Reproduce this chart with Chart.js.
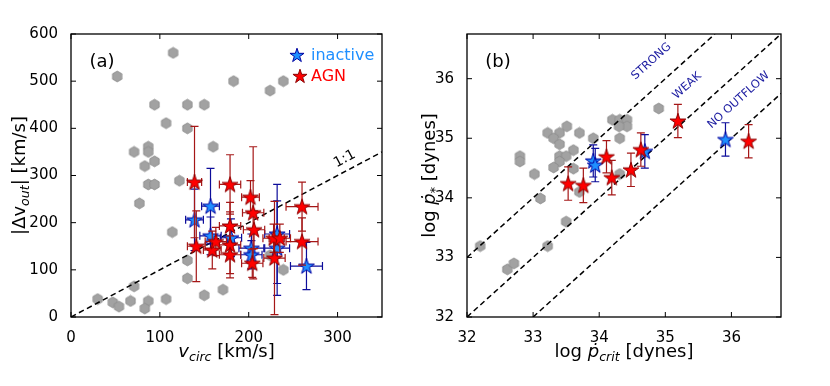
<!DOCTYPE html>
<html>
<head>
<meta charset="utf-8">
<script src="https://cdn.jsdelivr.net/npm/chart.js@4/dist/chart.umd.min.js"></script>
<style>
  html, body { margin: 0; padding: 0; background: #fff; }
  #wrap { position: relative; width: 830px; height: 386px; }
  .pane { position: absolute; top: 0; width: 415px; height: 386px; }
</style>
</head>
<body>
<div id="wrap">
  <div class="pane" style="left:0"><canvas id="chartA" width="415" height="386"></canvas></div>
  <div class="pane" style="left:415px"><canvas id="chartB" width="415" height="386"></canvas></div>
</div>
<script>
// ---- panel (a): |dv_out| vs v_circ ----
// comparison sample (grey hexagons)
const aLitV = [115, 52, 183, 224, 239, 94, 131, 150, 107, 131, 71, 87, 87, 160, 94, 83, 122, 87, 94, 77, 114, 131, 131, 150, 171, 71, 30, 47, 54, 67, 87, 83, 107, 224, 239];
const aLitD = [560, 510, 500, 480, 500, 450, 450, 450, 411, 400, 350, 361, 350, 361, 330, 320, 289, 281, 281, 241, 180, 120, 82, 46, 58, 65, 38, 31, 22, 34, 34, 18, 38, 131, 100];
// inactive galaxies
const aInV = [139, 157, 157, 180, 203, 203, 232, 232, 265];
const aInD = [206, 235, 172, 168, 146, 132, 176, 146, 108];
const aInVErr = [10, 10, 12, 12, 14, 12, 14, 14, 18];
const aInDErr = [65, 80, 40, 40, 30, 30, 105, 100, 50];
// AGN
const aAgnV = [139, 141, 159, 163, 179, 179, 179, 179, 202, 205, 206, 204, 228, 235, 229, 260, 260];
const aAgnD = [286, 150, 142, 160, 281, 193, 153, 132, 254, 221, 185, 114, 167, 167, 125, 234, 160];
const aAgnVErr = [8, 10, 10, 12, 12, 12, 12, 12, 10, 12, 12, 12, 12, 12, 12, 18, 18];
const aAgnDErr = [118, 75, 40, 30, 63, 50, 70, 40, 35, 140, 40, 30, 30, 30, 120, 52, 50];
const aXTicks = [0, 100, 200, 300];
const aYTicks = [0, 100, 200, 300, 400, 500, 600];
const aLineOffsets = [0];

// ---- panel (b): log p_* vs log p_crit ----
const bLitX = [34.90, 34.20, 34.31, 34.42, 34.42, 34.30, 33.51, 33.22, 33.40, 33.70, 33.31, 33.91, 34.31, 33.40, 33.61, 33.40, 33.50, 32.80, 32.80, 33.40, 33.31, 33.61, 33.02, 34.31, 33.70, 33.11, 33.50, 32.20, 33.22, 32.61, 32.71];
const bLitY = [35.50, 35.31, 35.31, 35.31, 35.20, 35.20, 35.20, 35.09, 35.09, 35.09, 35.00, 35.00, 35.00, 34.90, 34.80, 34.70, 34.70, 34.70, 34.61, 34.61, 34.51, 34.49, 34.40, 34.40, 34.10, 33.99, 33.60, 33.19, 33.19, 32.80, 32.90];
const bInX = [33.91, 33.94, 34.69, 35.91];
const bInY = [34.62, 34.55, 34.78, 34.98];
const bInYErr = [0.27, 0.28, 0.28, 0.28];
const bAgnX = [35.19, 36.26, 34.63, 34.11, 34.48, 34.19, 33.53, 33.76];
const bAgnY = [35.29, 34.95, 34.81, 34.69, 34.47, 34.34, 34.24, 34.21];
const bAgnYErr = [0.28, 0.28, 0.28, 0.27, 0.28, 0.29, 0.28, 0.29];
const bXTicks = [32, 33, 34, 35, 36];
const bYTicks = [32, 33, 34, 35, 36];
const bLineOffsets = [1, 0, -1];

const FONT = '"DejaVu Sans", sans-serif';
const BLUE = '#1f8fff';

// marker images
function makeHex(fill, edge, r) {
  const c = document.createElement('canvas');
  c.width = c.height = Math.ceil(2 * r + 2);
  const g = c.getContext('2d'), m = c.width / 2;
  g.beginPath();
  for (let k = 0; k < 6; k++) {
    const t = -Math.PI / 2 + k * Math.PI / 3;
    g.lineTo(m + r * Math.cos(t), m + r * Math.sin(t));
  }
  g.closePath();
  g.fillStyle = fill; g.fill();
  g.strokeStyle = edge; g.lineWidth = 0.8; g.stroke();
  return c;
}

function makeStar(fill, edge, R) {
  const c = document.createElement('canvas');
  c.width = c.height = Math.ceil(2 * R + 3);
  const g = c.getContext('2d'), m = c.width / 2, r = R * 0.382;
  g.beginPath();
  for (let k = 0; k < 10; k++) {
    const t = -Math.PI / 2 + k * Math.PI / 5, rr = k % 2 ? r : R;
    g.lineTo(m + rr * Math.cos(t), m + rr * Math.sin(t) + 0.6);
  }
  g.closePath();
  g.fillStyle = fill; g.fill();
  g.strokeStyle = edge; g.lineWidth = 1; g.stroke();
  return c;
}

const hexImg = makeHex('#a2a2a2', '#8c8c8c', 5.4);
const blueStar = makeStar(BLUE, '#0000a0', 8.3);
const redStar = makeStar('#ff0000', '#8b0000', 8.3);
const blueKey = makeStar(BLUE, '#0000a0', 7.4);
const redKey = makeStar('#ff0000', '#8b0000', 7.4);

function pts(xs, ys) { return xs.map((v, i) => ({ x: v, y: ys[i] })); }

function relLine(o, xr, yr) {
  const x1 = Math.max(xr[0], yr[0] - o), x2 = Math.min(xr[1], yr[1] - o);
  return [{ x: x1, y: x1 + o }, { x: x2, y: x2 + o }];
}

// draws text with italic / subscript pieces, centred on x
function richText(ctx, parts, x, y, rot, size) {
  ctx.save();
  ctx.translate(x, y);
  ctx.rotate(rot || 0);
  ctx.textAlign = 'left';
  ctx.textBaseline = 'alphabetic';
  ctx.fillStyle = '#000';
  const fonts = parts.map(p => (p[1].includes('i') ? 'italic ' : '') + (p[1].includes('s') ? size * 0.7 : size) + 'px ' + FONT);
  let w = 0;
  const ws = parts.map((p, i) => { ctx.font = fonts[i]; const m = ctx.measureText(p[0]).width; w += m; return m; });
  let cx = -w / 2;
  parts.forEach((p, i) => {
    ctx.font = fonts[i];
    ctx.fillText(p[0], cx, p[1].includes('s') ? size * 0.22 : 0);
    cx += ws[i];
  });
  ctx.restore();
}

const errorBars = {
  id: 'errorBars',
  beforeDatasetDraw(chart, args) {
    const ds = chart.data.datasets[args.index];
    if (!ds.errY) return;
    const xs = chart.scales.x, ys = chart.scales.y, ctx = chart.ctx, a = chart.chartArea;
    const cap = 4;
    ctx.save();
    ctx.beginPath();
    ctx.rect(a.left, a.top, a.right - a.left, a.bottom - a.top);
    ctx.clip();
    ctx.strokeStyle = ds.errColor;
    ctx.lineWidth = 1.2;
    ds.data.forEach((p, i) => {
      const px = xs.getPixelForValue(p.x), py = ys.getPixelForValue(p.y);
      const y1 = ys.getPixelForValue(p.y - ds.errY[i]), y2 = ys.getPixelForValue(p.y + ds.errY[i]);
      ctx.beginPath();
      ctx.moveTo(px, y1); ctx.lineTo(px, y2);
      ctx.moveTo(px - cap, y1); ctx.lineTo(px + cap, y1);
      ctx.moveTo(px - cap, y2); ctx.lineTo(px + cap, y2);
      if (ds.errX) {
        const x1 = xs.getPixelForValue(p.x - ds.errX[i]), x2 = xs.getPixelForValue(p.x + ds.errX[i]);
        ctx.moveTo(x1, py); ctx.lineTo(x2, py);
        ctx.moveTo(x1, py - cap); ctx.lineTo(x1, py + cap);
        ctx.moveTo(x2, py - cap); ctx.lineTo(x2, py + cap);
      }
      ctx.stroke();
    });
    ctx.restore();
  }
};

// frame, inward ticks, annotations, axis titles, legend
const decor = {
  id: 'decor',
  afterDraw(chart, args, o) {
    const ctx = chart.ctx, a = chart.chartArea, xs = chart.scales.x, ys = chart.scales.y;
    ctx.save();
    ctx.strokeStyle = '#000';
    ctx.lineWidth = 1;
    ctx.beginPath();
    xs.ticks.forEach(t => {
      const px = xs.getPixelForValue(t.value);
      ctx.moveTo(px, a.bottom); ctx.lineTo(px, a.bottom - 5);
      ctx.moveTo(px, a.top); ctx.lineTo(px, a.top + 5);
    });
    ys.ticks.forEach(t => {
      const py = ys.getPixelForValue(t.value);
      ctx.moveTo(a.left, py); ctx.lineTo(a.left + 5, py);
      ctx.moveTo(a.right, py); ctx.lineTo(a.right - 5, py);
    });
    ctx.stroke();
    ctx.lineWidth = 1.3;
    ctx.strokeRect(a.left, a.top, a.right - a.left, a.bottom - a.top);

    ctx.textAlign = 'center';
    ctx.textBaseline = 'middle';
    ctx.fillStyle = '#000';
    ctx.font = '18px ' + FONT;
    ctx.fillText(o.panel, a.left + 31, a.top + 28);

    (o.notes || []).forEach(n => {
      const px = xs.getPixelForValue(n.x), py = ys.getPixelForValue(n.y);
      const dx = xs.getPixelForValue(n.x + 1) - xs.getPixelForValue(n.x);
      const dy = ys.getPixelForValue(n.y + 1) - ys.getPixelForValue(n.y);
      ctx.save();
      ctx.translate(px, py);
      ctx.rotate(Math.atan2(dy, dx));
      ctx.fillStyle = n.color;
      ctx.font = n.size + 'px ' + FONT;
      ctx.fillText(n.t, 0, 0);
      ctx.restore();
    });

    (o.legend || []).forEach((l, i) => {
      const y = a.top + 21 + i * 21;
      ctx.drawImage(l.img, a.left + l.dx - l.img.width / 2, y - l.img.height / 2);
      ctx.textAlign = 'left';
      ctx.fillStyle = l.color;
      ctx.font = '16px ' + FONT;
      ctx.fillText(l.t, a.left + 240, y + 1);
    });

    const cxm = (a.left + a.right) / 2, cym = (a.top + a.bottom) / 2;
    richText(ctx, o.xTitle, cxm, 357, 0, 18);
    richText(ctx, o.yTitle, o.yTitleX, cym, -Math.PI / 2, 18);
    ctx.restore();
  }
};

function buildChart(id, c) {
  const tickFont = { family: FONT, size: 15 };
  const lines = c.offsets.map(off => ({
    data: relLine(off, c.xr, c.yr), showLine: true, borderColor: '#000', borderWidth: 1.5,
    borderDash: [5.5, 3.5], pointRadius: 0, order: 3
  }));
  return new Chart(document.getElementById(id), {
    type: 'scatter',
    data: {
      datasets: [
        { data: c.lit, pointStyle: hexImg, pointRadius: 5, order: 4 },
        ...lines,
        { data: c.inact, pointStyle: blueStar, pointRadius: 7, order: 2,
          errX: c.inactXErr, errY: c.inactYErr, errColor: '#0d0d9a' },
        { data: c.agn, pointStyle: redStar, pointRadius: 7, order: 1,
          errX: c.agnXErr, errY: c.agnYErr, errColor: '#a51717' }
      ]
    },
    options: {
      responsive: false,
      animation: false,
      layout: { padding: { top: 34, right: c.padRight, left: 0, bottom: 0 } },
      scales: {
        x: {
          type: 'linear', min: c.xr[0], max: c.xr[1],
          grid: { display: false }, border: { display: false },
          afterBuildTicks: s => { s.ticks = c.xTicks.map(v => ({ value: v })); },
          afterFit: s => { s.height = 69; },
          ticks: { font: tickFont, color: '#000', padding: 4, maxRotation: 0, autoSkip: false }
        },
        y: {
          type: 'linear', min: c.yr[0], max: c.yr[1],
          grid: { display: false }, border: { display: false },
          afterBuildTicks: s => { s.ticks = c.yTicks.map(v => ({ value: v })); },
          afterFit: s => { s.width = c.yWidth; },
          ticks: { font: tickFont, color: '#000', padding: 5, autoSkip: false }
        }
      },
      plugins: {
        legend: { display: false },
        tooltip: { enabled: false },
        decor: c.decor
      }
    },
    plugins: [errorBars, decor]
  });
}

buildChart('chartA', {
  xr: [0, 350], yr: [0, 600], xTicks: aXTicks, yTicks: aYTicks, offsets: aLineOffsets,
  lit: pts(aLitV, aLitD),
  inact: pts(aInV, aInD), inactXErr: aInVErr, inactYErr: aInDErr,
  agn: pts(aAgnV, aAgnD), agnXErr: aAgnVErr, agnYErr: aAgnDErr,
  padRight: 33, yWidth: 71,
  decor: {
    panel: '(a)',
    notes: [{ t: '1:1', x: 308, y: 335, size: 14, color: '#000' }],
    legend: [
      { img: blueKey, dx: 226, t: 'inactive', color: BLUE },
      { img: redKey, dx: 229, t: 'AGN', color: '#ff0000' }
    ],
    xTitle: [['v', 'i'], ['circ', 'is'], [' [km/s]', 'n']],
    yTitle: [['|Δv', 'n'], ['out', 'is'], ['| [km/s]', 'n']],
    yTitleX: 25
  }
});

buildChart('chartB', {
  xr: [32, 36.75], yr: [32, 36.75], xTicks: bXTicks, yTicks: bYTicks, offsets: bLineOffsets,
  lit: pts(bLitX, bLitY),
  inact: pts(bInX, bInY), inactXErr: null, inactYErr: bInYErr,
  agn: pts(bAgnX, bAgnY), agnXErr: null, agnYErr: bAgnYErr,
  padRight: 49, yWidth: 52,
  decor: {
    panel: '(b)',
    notes: [
      { t: 'STRONG', x: 34.79, y: 36.29, size: 11.5, color: '#1a1aa0' },
      { t: 'WEAK', x: 35.33, y: 35.88, size: 11.5, color: '#1a1aa0' },
      { t: 'NO OUTFLOW', x: 36.11, y: 35.64, size: 11.5, color: '#1a1aa0' }
    ],
    xTitle: [['log ', 'n'], ['ṗ', 'i'], ['crit', 'is'], [' [dynes]', 'n']],
    yTitle: [['log ', 'n'], ['ṗ', 'i'], ['*', 's'], [' [dynes]', 'n']],
    yTitleX: 20
  }
});
</script>
</body>
</html>
